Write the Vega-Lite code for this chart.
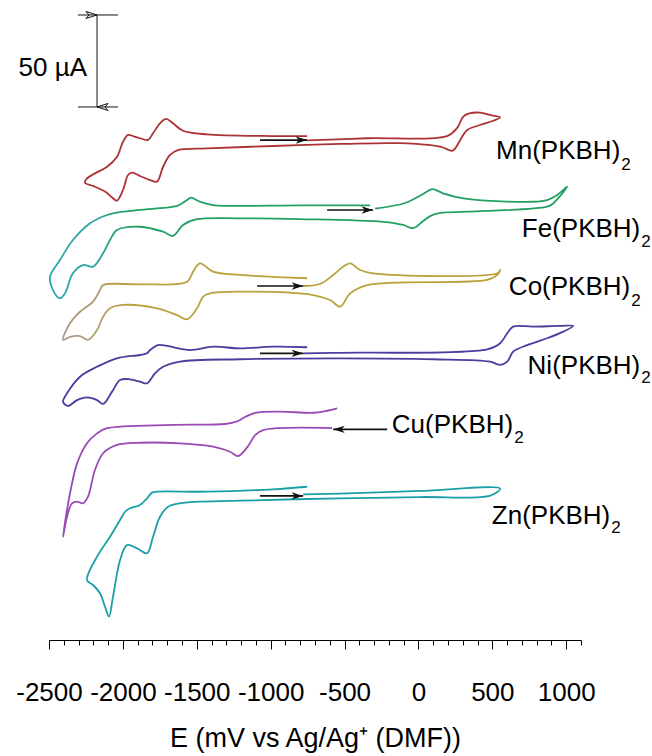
{
"$schema":"https://vega.github.io/schema/vega-lite/v6.json",
"width":532,"height":640,
"autosize":{"type":"none"},
"padding":{"left":49,"top":0,"right":71,"bottom":116},
"background":"white",
"config":{"view":{"stroke":null},"font":"Liberation Sans"},
"datasets":{
"cv":[
{"s":"Mn","i":0,"E":-753,"I":271.5},{"s":"Mn","i":1,"E":-347,"I":272.7},{"s":"Mn","i":2,"E":194,"I":273.9},{"s":"Mn","i":3,"E":262,"I":278.3},{"s":"Mn","i":4,"E":303,"I":284.4},{"s":"Mn","i":5,"E":350,"I":286.3},{"s":"Mn","i":6,"E":418,"I":286.6},{"s":"Mn","i":7,"E":486,"I":285.3},{"s":"Mn","i":8,"E":553,"I":284.1},{"s":"Mn","i":9,"E":506,"I":282.2},{"s":"Mn","i":10,"E":418,"I":279.9},{"s":"Mn","i":11,"E":330,"I":277.2},{"s":"Mn","i":12,"E":283,"I":271.8},{"s":"Mn","i":13,"E":249,"I":267.2},{"s":"Mn","i":14,"E":228,"I":265.9},{"s":"Mn","i":15,"E":147,"I":268.1},{"s":"Mn","i":16,"E":-124,"I":270.0},{"s":"Mn","i":17,"E":-530,"I":269.6},{"s":"Mn","i":18,"E":-984,"I":268.5},{"s":"Mn","i":19,"E":-1430,"I":267.2},{"s":"Mn","i":20,"E":-1627,"I":266.3},{"s":"Mn","i":21,"E":-1681,"I":263.6},{"s":"Mn","i":22,"E":-1728,"I":257.2},{"s":"Mn","i":23,"E":-1769,"I":249.1},{"s":"Mn","i":24,"E":-1816,"I":250.0},{"s":"Mn","i":25,"E":-1884,"I":252.2},{"s":"Mn","i":26,"E":-1938,"I":254.0},{"s":"Mn","i":27,"E":-1965,"I":252.7},{"s":"Mn","i":28,"E":-1999,"I":244.6},{"s":"Mn","i":29,"E":-2040,"I":238.8},{"s":"Mn","i":30,"E":-2067,"I":240.1},{"s":"Mn","i":31,"E":-2121,"I":243.7},{"s":"Mn","i":32,"E":-2202,"I":246.8},{"s":"Mn","i":33,"E":-2256,"I":248.5},{"s":"Mn","i":34,"E":-2243,"I":250.9},{"s":"Mn","i":35,"E":-2189,"I":253.6},{"s":"Mn","i":36,"E":-2107,"I":257.2},{"s":"Mn","i":37,"E":-2040,"I":262.7},{"s":"Mn","i":38,"E":-1999,"I":270.8},{"s":"Mn","i":39,"E":-1965,"I":274.5},{"s":"Mn","i":40,"E":-1931,"I":273.9},{"s":"Mn","i":41,"E":-1884,"I":272.7},{"s":"Mn","i":42,"E":-1830,"I":271.8},{"s":"Mn","i":43,"E":-1796,"I":275.4},{"s":"Mn","i":44,"E":-1749,"I":280.8},{"s":"Mn","i":45,"E":-1708,"I":283.2},{"s":"Mn","i":46,"E":-1661,"I":280.8},{"s":"Mn","i":47,"E":-1593,"I":276.8},{"s":"Mn","i":48,"E":-1430,"I":274.8},{"s":"Mn","i":49,"E":-984,"I":273.9},{"s":"Mn","i":50,"E":-753,"I":273.9},
{"s":"Fe","i":0,"E":-293,"I":234.5},{"s":"Fe","i":1,"E":-90,"I":237.5},{"s":"Fe","i":2,"E":32,"I":242.4},{"s":"Fe","i":3,"E":93,"I":245.0},{"s":"Fe","i":4,"E":167,"I":242.8},{"s":"Fe","i":5,"E":330,"I":239.7},{"s":"Fe","i":6,"E":777,"I":238.2},{"s":"Fe","i":7,"E":871,"I":239.1},{"s":"Fe","i":8,"E":939,"I":241.9},{"s":"Fe","i":9,"E":1007,"I":246.4},{"s":"Fe","i":10,"E":912,"I":237.3},{"s":"Fe","i":11,"E":871,"I":235.5},{"s":"Fe","i":12,"E":330,"I":232.8},{"s":"Fe","i":13,"E":147,"I":232.1},{"s":"Fe","i":14,"E":79,"I":230.4},{"s":"Fe","i":15,"E":32,"I":227.7},{"s":"Fe","i":16,"E":-36,"I":223.8},{"s":"Fe","i":17,"E":-103,"I":225.6},{"s":"Fe","i":18,"E":-239,"I":227.3},{"s":"Fe","i":19,"E":-801,"I":228.8},{"s":"Fe","i":20,"E":-1207,"I":229.2},{"s":"Fe","i":21,"E":-1498,"I":228.7},{"s":"Fe","i":22,"E":-1593,"I":225.6},{"s":"Fe","i":23,"E":-1661,"I":219.6},{"s":"Fe","i":24,"E":-1728,"I":221.9},{"s":"Fe","i":25,"E":-1884,"I":224.6},{"s":"Fe","i":26,"E":-2040,"I":222.8},{"s":"Fe","i":27,"E":-2087,"I":217.4},{"s":"Fe","i":28,"E":-2134,"I":210.2},{"s":"Fe","i":29,"E":-2202,"I":202.9},{"s":"Fe","i":30,"E":-2270,"I":203.8},{"s":"Fe","i":31,"E":-2338,"I":199.3},{"s":"Fe","i":32,"E":-2392,"I":188.4},{"s":"Fe","i":33,"E":-2426,"I":185.7},{"s":"Fe","i":34,"E":-2473,"I":190.2},{"s":"Fe","i":35,"E":-2493,"I":197.5},{"s":"Fe","i":36,"E":-2426,"I":206.5},{"s":"Fe","i":37,"E":-2338,"I":217.4},{"s":"Fe","i":38,"E":-2222,"I":226.5},{"s":"Fe","i":39,"E":-2107,"I":231.0},{"s":"Fe","i":40,"E":-1999,"I":232.8},{"s":"Fe","i":41,"E":-1769,"I":234.6},{"s":"Fe","i":42,"E":-1633,"I":235.9},{"s":"Fe","i":43,"E":-1566,"I":239.1},{"s":"Fe","i":44,"E":-1539,"I":240.4},{"s":"Fe","i":45,"E":-1478,"I":238.2},{"s":"Fe","i":46,"E":-1390,"I":236.4},{"s":"Fe","i":47,"E":-801,"I":236.2},{"s":"Fe","i":48,"E":-327,"I":236.2},
{"s":"Co","i":0,"E":-780,"I":192.4},{"s":"Co","i":1,"E":-665,"I":193.5},{"s":"Co","i":2,"E":-577,"I":198.4},{"s":"Co","i":3,"E":-510,"I":202.9},{"s":"Co","i":4,"E":-462,"I":204.7},{"s":"Co","i":5,"E":-395,"I":201.1},{"s":"Co","i":6,"E":-307,"I":199.3},{"s":"Co","i":7,"E":533,"I":199.3},{"s":"Co","i":8,"E":553,"I":201.1},{"s":"Co","i":9,"E":533,"I":198.4},{"s":"Co","i":10,"E":465,"I":195.7},{"s":"Co","i":11,"E":-347,"I":192.9},{"s":"Co","i":12,"E":-462,"I":188.4},{"s":"Co","i":13,"E":-530,"I":181.2},{"s":"Co","i":14,"E":-598,"I":184.8},{"s":"Co","i":15,"E":-713,"I":187.5},{"s":"Co","i":16,"E":-1207,"I":189.3},{"s":"Co","i":17,"E":-1410,"I":188.4},{"s":"Co","i":18,"E":-1457,"I":186.6},{"s":"Co","i":19,"E":-1498,"I":180.3},{"s":"Co","i":20,"E":-1566,"I":174.3},{"s":"Co","i":21,"E":-1633,"I":176.6},{"s":"Co","i":22,"E":-1769,"I":180.3},{"s":"Co","i":23,"E":-1999,"I":182.1},{"s":"Co","i":24,"E":-2087,"I":180.3},{"s":"Co","i":25,"E":-2134,"I":175.7},{"s":"Co","i":26,"E":-2175,"I":168.5},{"s":"Co","i":27,"E":-2236,"I":163.1},{"s":"Co","i":28,"E":-2290,"I":165.2},{"s":"Co","i":29,"E":-2358,"I":164.8},{"s":"Co","i":30,"E":-2405,"I":163.1},{"s":"Co","i":31,"E":-2358,"I":172.1},{"s":"Co","i":32,"E":-2290,"I":178.4},{"s":"Co","i":33,"E":-2202,"I":183.9},{"s":"Co","i":34,"E":-2155,"I":190.2},{"s":"Co","i":35,"E":-2134,"I":192.9},{"s":"Co","i":36,"E":-1884,"I":193.3},{"s":"Co","i":37,"E":-1566,"I":194.7},{"s":"Co","i":38,"E":-1525,"I":200.2},{"s":"Co","i":39,"E":-1478,"I":204.7},{"s":"Co","i":40,"E":-1390,"I":200.2},{"s":"Co","i":41,"E":-1207,"I":198.4},{"s":"Co","i":42,"E":-753,"I":196.6},
{"s":"Ni","i":0,"E":-780,"I":155.8},{"s":"Ni","i":1,"E":-530,"I":156.1},{"s":"Ni","i":2,"E":465,"I":158.0},{"s":"Ni","i":3,"E":553,"I":161.3},{"s":"Ni","i":4,"E":601,"I":166.7},{"s":"Ni","i":5,"E":641,"I":170.3},{"s":"Ni","i":6,"E":777,"I":170.3},{"s":"Ni","i":7,"E":959,"I":170.7},{"s":"Ni","i":8,"E":1047,"I":170.7},{"s":"Ni","i":9,"E":980,"I":167.6},{"s":"Ni","i":10,"E":871,"I":164.0},{"s":"Ni","i":11,"E":736,"I":160.3},{"s":"Ni","i":12,"E":641,"I":156.7},{"s":"Ni","i":13,"E":601,"I":151.3},{"s":"Ni","i":14,"E":553,"I":149.5},{"s":"Ni","i":15,"E":486,"I":151.3},{"s":"Ni","i":16,"E":100,"I":152.6},{"s":"Ni","i":17,"E":-530,"I":153.1},{"s":"Ni","i":18,"E":-1207,"I":152.6},{"s":"Ni","i":19,"E":-1613,"I":151.3},{"s":"Ni","i":20,"E":-1728,"I":148.5},{"s":"Ni","i":21,"E":-1782,"I":145.0},{"s":"Ni","i":22,"E":-1837,"I":139.5},{"s":"Ni","i":23,"E":-1884,"I":140.4},{"s":"Ni","i":24,"E":-1952,"I":141.7},{"s":"Ni","i":25,"E":-2019,"I":141.3},{"s":"Ni","i":26,"E":-2073,"I":135.0},{"s":"Ni","i":27,"E":-2134,"I":128.3},{"s":"Ni","i":28,"E":-2175,"I":130.4},{"s":"Ni","i":29,"E":-2243,"I":131.9},{"s":"Ni","i":30,"E":-2310,"I":130.4},{"s":"Ni","i":31,"E":-2371,"I":127.2},{"s":"Ni","i":32,"E":-2405,"I":129.5},{"s":"Ni","i":33,"E":-2378,"I":134.1},{"s":"Ni","i":34,"E":-2290,"I":143.1},{"s":"Ni","i":35,"E":-2175,"I":148.5},{"s":"Ni","i":36,"E":-2040,"I":153.1},{"s":"Ni","i":37,"E":-1884,"I":154.9},{"s":"Ni","i":38,"E":-1837,"I":155.8},{"s":"Ni","i":39,"E":-1816,"I":157.6},{"s":"Ni","i":40,"E":-1762,"I":160.3},{"s":"Ni","i":41,"E":-1701,"I":159.8},{"s":"Ni","i":42,"E":-1545,"I":157.6},{"s":"Ni","i":43,"E":-1390,"I":159.4},{"s":"Ni","i":44,"E":-1207,"I":158.5},{"s":"Ni","i":45,"E":-984,"I":159.4},{"s":"Ni","i":46,"E":-753,"I":159.1},
{"s":"Cu","i":0,"E":-584,"I":115.2},{"s":"Cu","i":1,"E":-1051,"I":114.1},{"s":"Cu","i":2,"E":-1105,"I":111.4},{"s":"Cu","i":3,"E":-1153,"I":105.4},{"s":"Cu","i":4,"E":-1220,"I":100.0},{"s":"Cu","i":5,"E":-1275,"I":102.3},{"s":"Cu","i":6,"E":-1390,"I":105.1},{"s":"Cu","i":7,"E":-1613,"I":106.9},{"s":"Cu","i":8,"E":-1884,"I":107.2},{"s":"Cu","i":9,"E":-2040,"I":106.0},{"s":"Cu","i":10,"E":-2134,"I":101.5},{"s":"Cu","i":11,"E":-2189,"I":92.4},{"s":"Cu","i":12,"E":-2236,"I":77.9},{"s":"Cu","i":13,"E":-2270,"I":74.3},{"s":"Cu","i":14,"E":-2310,"I":75.2},{"s":"Cu","i":15,"E":-2344,"I":74.3},{"s":"Cu","i":16,"E":-2378,"I":67.0},{"s":"Cu","i":17,"E":-2405,"I":56.1},{"s":"Cu","i":18,"E":-2378,"I":70.7},{"s":"Cu","i":19,"E":-2344,"I":85.2},{"s":"Cu","i":20,"E":-2310,"I":96.0},{"s":"Cu","i":21,"E":-2243,"I":106.9},{"s":"Cu","i":22,"E":-2175,"I":112.3},{"s":"Cu","i":23,"E":-2107,"I":115.1},{"s":"Cu","i":24,"E":-1661,"I":116.9},{"s":"Cu","i":25,"E":-1308,"I":117.4},{"s":"Cu","i":26,"E":-1227,"I":118.8},{"s":"Cu","i":27,"E":-1173,"I":121.2},{"s":"Cu","i":28,"E":-1105,"I":123.4},{"s":"Cu","i":29,"E":-936,"I":124.1},{"s":"Cu","i":30,"E":-713,"I":123.5},{"s":"Cu","i":31,"E":-618,"I":124.6},{"s":"Cu","i":32,"E":-550,"I":125.9},
{"s":"Zn","i":0,"E":-780,"I":79.1},{"s":"Zn","i":1,"E":-530,"I":79.6},{"s":"Zn","i":2,"E":12,"I":81.0},{"s":"Zn","i":3,"E":553,"I":82.3},{"s":"Zn","i":4,"E":486,"I":78.5},{"s":"Zn","i":5,"E":12,"I":77.7},{"s":"Zn","i":6,"E":-530,"I":77.0},{"s":"Zn","i":7,"E":-1207,"I":75.7},{"s":"Zn","i":8,"E":-1613,"I":74.3},{"s":"Zn","i":9,"E":-1694,"I":72.4},{"s":"Zn","i":10,"E":-1749,"I":67.0},{"s":"Zn","i":11,"E":-1796,"I":56.1},{"s":"Zn","i":12,"E":-1837,"I":47.1},{"s":"Zn","i":13,"E":-1904,"I":49.8},{"s":"Zn","i":14,"E":-1972,"I":51.6},{"s":"Zn","i":15,"E":-2019,"I":43.5},{"s":"Zn","i":16,"E":-2067,"I":23.5},{"s":"Zn","i":17,"E":-2094,"I":12.7},{"s":"Zn","i":18,"E":-2121,"I":18.1},{"s":"Zn","i":19,"E":-2155,"I":25.4},{"s":"Zn","i":20,"E":-2202,"I":29.9},{"s":"Zn","i":21,"E":-2243,"I":32.6},{"s":"Zn","i":22,"E":-2175,"I":45.3},{"s":"Zn","i":23,"E":-2087,"I":56.1},{"s":"Zn","i":24,"E":-2019,"I":65.2},{"s":"Zn","i":25,"E":-1985,"I":69.7},{"s":"Zn","i":26,"E":-1952,"I":71.6},{"s":"Zn","i":27,"E":-1884,"I":73.4},{"s":"Zn","i":28,"E":-1837,"I":77.0},{"s":"Zn","i":29,"E":-1803,"I":80.1},{"s":"Zn","i":30,"E":-1769,"I":80.6},{"s":"Zn","i":31,"E":-1430,"I":80.6},{"s":"Zn","i":32,"E":-984,"I":81.9},{"s":"Zn","i":33,"E":-753,"I":83.3}
],
"arrows":[
{"s":"Mn","x1":-1072,"x2":-753,"y":271.7,"tip":-753,"dir":"right"},
{"s":"Fe","x1":-618,"x2":-307,"y":233.7,"tip":-307,"dir":"right"},
{"s":"Co","x1":-1092,"x2":-780,"y":192.4,"tip":-780,"dir":"right"},
{"s":"Ni","x1":-1072,"x2":-780,"y":155.8,"tip":-780,"dir":"right"},
{"s":"Cu","x1":-577,"x2":-212,"y":114.5,"tip":-577,"dir":"left"},
{"s":"Zn","x1":-1072,"x2":-780,"y":78.3,"tip":-780,"dir":"right"}
],
"labels":[
{"name":"Mn(PKBH)","x":1366,"y":265.8,"ys":258.2},
{"name":"Fe(PKBH)","x":1501,"y":223.4,"ys":216.3},
{"name":"Co(PKBH)","x":1433,"y":191.9,"ys":184.2},
{"name":"Ni(PKBH)","x":1501,"y":148.9,"ys":142.4},
{"name":"Cu(PKBH)","x":641,"y":116.9,"ys":109.8},
{"name":"Zn(PKBH)","x":1298,"y":67.4,"ys":60.9}
],
"bar":[
{"x":-2175,"x2":-2175,"y":289.7,"y2":339.7},
{"x":-2304,"x2":-2033,"y":339.7,"y2":339.7},
{"x":-2304,"x2":-2033,"y":289.7,"y2":289.7}
],
"chev":[
{"x":-2175,"y":339.7,"dir":"up"},
{"x":-2175,"y":289.7,"dir":"down"}
],
"bartext":[{"x":-2243,"y":310.9,"t":"50 µA"}]
},
"resolve":{"axis":{"x":"independent"}},
"layer":[
{
"data":{"name":"cv"},
"transform":[{"filter":"datum.s !== 'Fe' && datum.s !== 'Co'"}],
"mark":{"type":"line","interpolate":"catmull-rom","strokeWidth":1.8},
"encoding":{
"x":{"field":"E","type":"quantitative","scale":{"domain":[-2500,1100],"nice":false,"zero":false},
"axis":{"orient":"bottom","values":[-2500,-2000,-1500,-1000,-500,0,500,1000],"labelExpr":"'' + datum.value","tickSize":9,"tickColor":"#000","tickWidth":1,"domainColor":"#000","domainWidth":1,"labelFont":"Liberation Sans","labelFontSize":26,"labelColor":"#000","labelPadding":30,"labelOverlap":false,"labelFlush":false,"labelBound":false,"grid":false,"title":"E (mV vs Ag/Ag⁺ (DMF))","titleFont":"Liberation Sans","titleFontSize":27,"titleFontWeight":"normal","titleColor":"#000","titlePadding":20}},
"y":{"field":"I","type":"quantitative","scale":{"domain":[0,347.84],"nice":false,"zero":false},"axis":null},
"color":{"field":"s","type":"nominal","scale":{"domain":["Mn","Ni","Cu","Zn"],"range":["#ad3236","#4b3c9e","#9a4ab5","#1a9fa8"]},"legend":null},
"order":{"field":"i","type":"quantitative"}
}
},
{
"data":{"name":"cv"},
"transform":[{"filter":"datum.s === 'Fe'"}],
"mark":{"type":"line","interpolate":"catmull-rom","strokeWidth":1.8,"stroke":{"gradient":"linear","x1":0,"x2":1,"y1":0,"y2":0,"stops":[{"offset":0,"color":"#2aa6b8"},{"offset":0.08,"color":"#2aa5a0"},{"offset":0.16,"color":"#22a062"},{"offset":1,"color":"#22a062"}]}},
"encoding":{
"x":{"field":"E","type":"quantitative","axis":{"orient":"bottom","values":[-2500,-2400,-2300,-2200,-2100,-2000,-1900,-1800,-1700,-1600,-1500,-1400,-1300,-1200,-1100,-1000,-900,-800,-700,-600,-500,-400,-300,-200,-100,0,100,200,300,400,500,600,700,800,900,1000,1100],"labels":false,"domain":false,"tickSize":5,"tickColor":"#000","tickWidth":1,"grid":false,"title":null}},
"y":{"field":"I","type":"quantitative","axis":null},
"order":{"field":"i","type":"quantitative"}
}
},
{
"data":{"name":"cv"},
"transform":[{"filter":"datum.s === 'Co'"}],
"mark":{"type":"line","interpolate":"catmull-rom","strokeWidth":1.8,"stroke":{"gradient":"linear","x1":0,"x2":1,"y1":0,"y2":0,"stops":[{"offset":0,"color":"#a89a88"},{"offset":0.08,"color":"#b0a070"},{"offset":0.15,"color":"#b8a23c"},{"offset":1,"color":"#b8a23c"}]}},
"encoding":{
"x":{"field":"E","type":"quantitative","axis":null},
"y":{"field":"I","type":"quantitative","axis":null},
"order":{"field":"i","type":"quantitative"}
}
},
{
"data":{"name":"arrows"},
"mark":{"type":"rule","color":"#111","strokeWidth":1.7},
"encoding":{
"x":{"field":"x1","type":"quantitative","axis":null},
"x2":{"field":"x2"},
"y":{"field":"y","type":"quantitative","axis":null}
}
},
{
"data":{"name":"arrows"},
"mark":{"type":"point","filled":true,"color":"#111","size":110,"opacity":1},
"encoding":{
"x":{"field":"tip","type":"quantitative","axis":null},
"y":{"field":"y","type":"quantitative","axis":null},
"shape":{"field":"dir","type":"nominal","scale":{"domain":["right","left"],"range":["M0,0L-2.2,-0.7L-1.6,0L-2.2,0.7Z","M0,0L2.2,-0.7L1.6,0L2.2,0.7Z"]},"legend":null}
}
},
{
"data":{"name":"bar"},
"mark":{"type":"rule","color":"#111","strokeWidth":1},
"encoding":{
"x":{"field":"x","type":"quantitative","axis":null},
"x2":{"field":"x2"},
"y":{"field":"y","type":"quantitative","axis":null},
"y2":{"field":"y2"}
}
},
{
"data":{"name":"chev"},
"mark":{"type":"point","filled":false,"color":"#111","strokeWidth":1,"size":100,"opacity":1},
"encoding":{
"x":{"field":"x","type":"quantitative","axis":null},
"y":{"field":"y","type":"quantitative","axis":null},
"shape":{"field":"dir","type":"nominal","scale":{"domain":["up","down"],"range":["M-0.8,1.8L0,0L0.8,1.8","M-0.8,-1.8L0,0L0.8,-1.8"]},"legend":null}
}
},
{
"data":{"name":"bartext"},
"mark":{"type":"text","align":"right","baseline":"middle","font":"Liberation Sans","fontSize":26,"color":"#000"},
"encoding":{
"x":{"field":"x","type":"quantitative","axis":null},
"y":{"field":"y","type":"quantitative","axis":null},
"text":{"field":"t"}
}
},
{
"data":{"name":"labels"},
"mark":{"type":"text","align":"right","baseline":"middle","font":"Liberation Sans","fontSize":26,"color":"#000"},
"encoding":{
"x":{"field":"x","type":"quantitative","axis":null},
"y":{"field":"y","type":"quantitative","axis":null},
"text":{"field":"name"}
}
},
{
"data":{"name":"labels"},
"mark":{"type":"text","align":"left","baseline":"middle","dx":1,"font":"Liberation Sans","fontSize":17,"color":"#000"},
"encoding":{
"x":{"field":"x","type":"quantitative","axis":null},
"y":{"field":"ys","type":"quantitative","axis":null},
"text":{"value":"2"}
}
}
]
}
